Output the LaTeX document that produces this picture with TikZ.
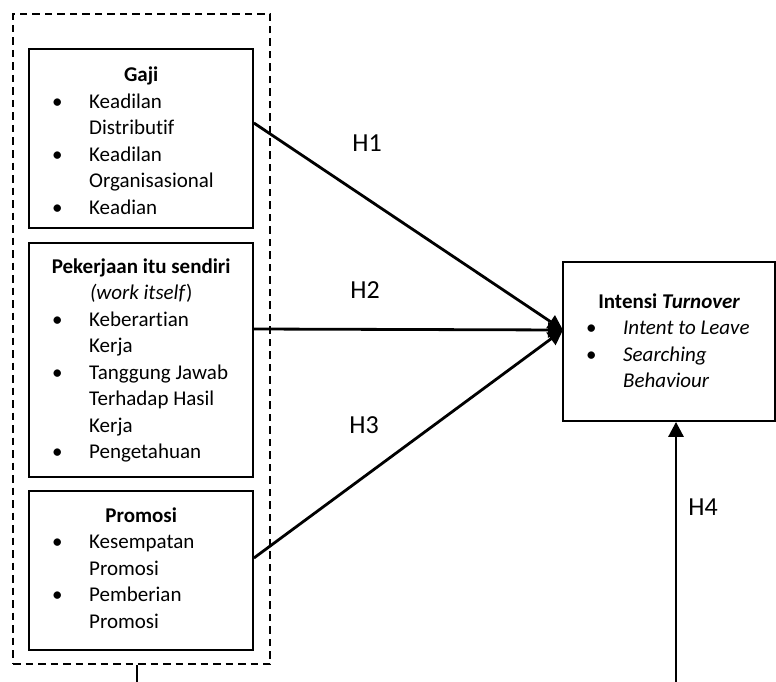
\documentclass[tikz,border=0pt]{standalone}
\usepackage{fontspec}
\setmainfont{Carlito}[Ligatures=NoCommon]
\usetikzlibrary{arrows.meta}
\newcommand\bodyfont{\fontsize{21}{26.5}\selectfont\parindent=0pt}
\newcommand\mybul{\hspace*{23pt}\makebox[37pt][l]{\textbullet}}
\newcommand\myind{\hspace*{60pt}}
\tikzset{
  box/.style={draw, line width=1.8pt, inner sep=0, fill=none},
  dbox/.style={draw, line width=1.6pt, dash pattern=on 7.5pt off 5pt, inner sep=0},
  txt/.style={anchor=base west, inner sep=0},
  arr/.style={line width=2.8pt, -{Triangle[length=15pt,width=15pt]}},
  lab/.style={inner sep=0, font=\fontsize{26}{28}\selectfont},
}
\begin{document}
\begin{tikzpicture}[x=1pt,y=-1pt]
\useasboundingbox (0,0) rectangle (776,682);
% outer dashed group
\node[dbox, minimum width=257pt, minimum height=650pt] (group) at (141.5,339) {};
% boxes
\node[box, minimum width=224pt, minimum height=179pt] (gaji) at (141,138.5) {};
\node[box, minimum width=224pt, minimum height=234pt] (kerja) at (141,360) {};
\node[box, minimum width=224pt, minimum height=159pt] (promosi) at (141,570.5) {};
\node[box, minimum width=212pt, minimum height=159pt] (intensi) at (669,341.5) {};
% texts
\node[txt] (gajitext) at (29,82) {\parbox[t]{224pt}{\bodyfont
{\centering\bfseries Gaji\par}
\mybul Keadilan\par
\myind Distributif\par
\mybul Keadilan\par
\myind Organisasional\par
\mybul Keadian\par}};
\node[txt] (kerjatext) at (29,273) {\parbox[t]{224pt}{\bodyfont
{\centering\bfseries Pekerjaan itu sendiri\par}
{\centering\textit{(work itself})\par}
\mybul Keberartian\par
\myind Kerja\par
\mybul Tanggung Jawab\par
\myind Terhadap Hasil\par
\myind Kerja\par
\mybul Pengetahuan\par}};
\node[txt] (promositext) at (29,522) {\parbox[t]{224pt}{\bodyfont
{\centering\bfseries Promosi\par}
\mybul Kesempatan\par
\myind Promosi\par
\mybul Pemberian\par
\myind Promosi\par}};
\node[txt] (intensitext) at (563,308) {\parbox[t]{212pt}{\bodyfont
{\centering\bfseries Intensi \textit{Turnover}\par}
\mybul\textit{Intent to Leave}\par
\mybul\textit{Searching}\par
\myind\textit{Behaviour}\par}};
% connectors
\coordinate (target) at (563,330);
\draw[arr] ([yshift=15.5pt]gaji.east) -- (target);
\draw[arr] ([yshift=31pt]kerja.east) -- (target);
\draw[arr] ([yshift=12.5pt]promosi.east) -- (target);
\coordinate (h4s) at (676,682);
\draw[arr] (h4s) -- (h4s |- intensi.south);
\coordinate (stub) at (137,682);
\draw[line width=1.6pt] (stub |- group.south) -- (stub);
% labels
\node[lab] (h1) at (367,143) {H1};
\node[lab] (h2) at (365,290) {H2};
\node[lab] (h3) at (364,425) {H3};
\node[lab] (h4) at (703,507) {H4};
\end{tikzpicture}
\end{document}
